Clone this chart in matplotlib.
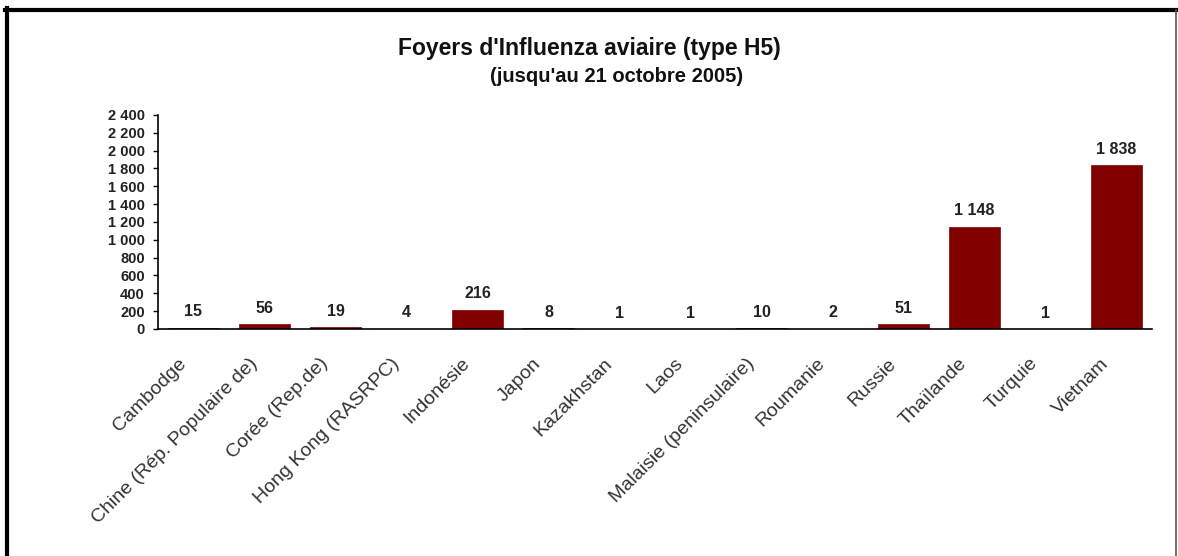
import matplotlib.pyplot as plt
import matplotlib.transforms as mtransforms
from matplotlib.lines import Line2D

plt.rcParams['font.family'] = ['Liberation Sans', 'DejaVu Sans']

pays = ['Cambodge', 'Chine (Rép. Populaire de)', 'Corée (Rep.de)', 'Hong Kong (RASRPC)',
        'Indonésie', 'Japon', 'Kazakhstan', 'Laos', 'Malaisie (peninsulaire)',
        'Roumanie', 'Russie', 'Thaïlande', 'Turquie', 'Vietnam']
foyers = [15, 56, 19, 4, 216, 8, 1, 1, 10, 2, 51, 1148, 1, 1838]
yticks = list(range(0, 2401, 200))


def fmt(v):
    # thousands separator as a space, french style
    return '{:,}'.format(v).replace(',', ' ')


fig = plt.figure(figsize=(11.78, 5.56), dpi=100)
ax = fig.add_axes([0.1341, 0.4083, 0.8439, 0.3849])

x = range(len(pays))
ax.bar(x, foyers, width=0.72, color='#800000', edgecolor='#800000', linewidth=0.5)

for i, v in enumerate(foyers):
    ax.annotate(fmt(v), (i, v), xytext=(0, 6), textcoords='offset points',
                ha='center', va='bottom', fontsize=11.5, fontweight='bold', color='#222222')

ax.set_xlim(-0.5, len(pays) - 0.5)
ax.set_ylim(0, 2400)
ax.set_yticks(yticks)
ax.set_yticklabels([fmt(t) for t in yticks], fontsize=10.5, fontweight='bold', color='#222222')
ax.tick_params(axis='y', direction='out', length=3.5, width=1, pad=6)

ax.set_xticks(list(x))
ax.set_xticklabels(pays, rotation=45, ha='right', va='center', rotation_mode='anchor',
                   fontsize=14, color='#333333')
ax.tick_params(axis='x', length=0, pad=23)
shift = mtransforms.ScaledTranslation(-10 / 100, 0, fig.dpi_scale_trans)
for lab in ax.get_xticklabels():
    lab.set_transform(lab.get_transform() + shift)

ax.spines['top'].set_visible(False)
ax.spines['right'].set_visible(False)
for s in ['left', 'bottom']:
    ax.spines[s].set_linewidth(1.2)
    ax.spines[s].set_color('black')

fig.text(0.5, 0.912, "Foyers d'Influenza aviaire (type H5)", ha='center', va='center',
         fontsize=16.5, fontweight='bold', color='#111111')
fig.text(0.523, 0.862, "(jusqu'au 21 octobre 2005)", ha='center', va='center',
         fontsize=14.5, fontweight='bold', color='#111111')

# cadre autour du graphique
fig.add_artist(Line2D([5 / 1178, 1177 / 1178], [1 - 10 / 556, 1 - 10 / 556],
                      transform=fig.transFigure, color='black', linewidth=3))
fig.add_artist(Line2D([7 / 1178, 7 / 1178], [0, 1 - 8 / 556],
                      transform=fig.transFigure, color='black', linewidth=3))
fig.add_artist(Line2D([1176 / 1178, 1176 / 1178], [0, 1 - 10 / 556],
                      transform=fig.transFigure, color='#555555', linewidth=1.2))

fig.savefig('out.png', dpi=100)
